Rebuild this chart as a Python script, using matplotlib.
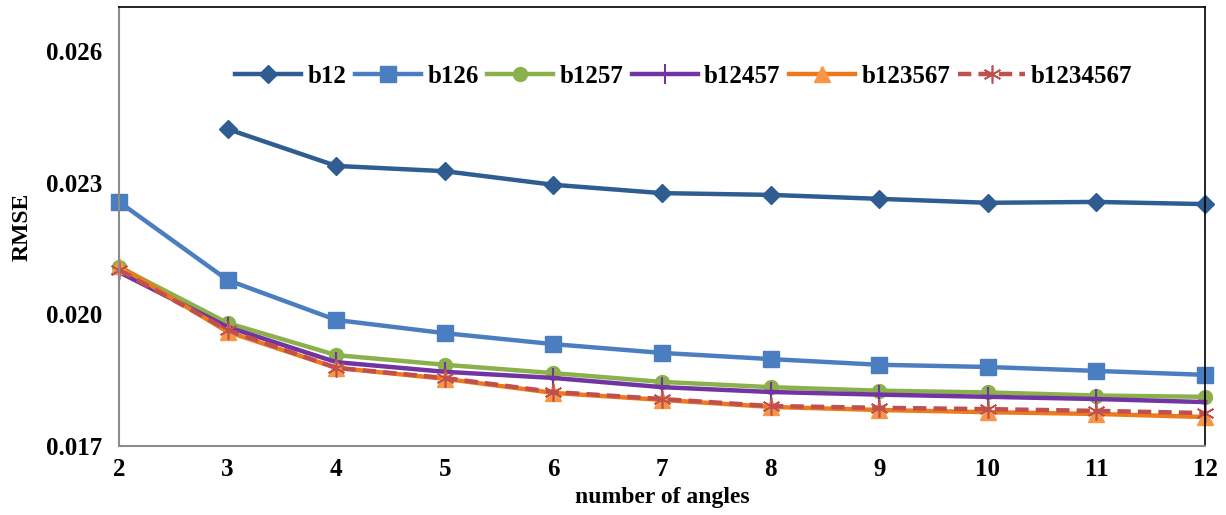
import matplotlib.pyplot as plt

# RMSE vs number of viewing angles for each band combination
angles = [2, 3, 4, 5, 6, 7, 8, 9, 10, 11, 12]

b12      = [None, 0.02422, 0.02338, 0.02326, 0.02295, 0.02276, 0.02272, 0.02263, 0.02254, 0.02256, 0.02251]
b126     = [0.02256, 0.02078, 0.01987, 0.01957, 0.01932, 0.01912, 0.01898, 0.01885, 0.01880, 0.01871, 0.01862]
b1257    = [0.02108, 0.01980, 0.01907, 0.01885, 0.01866, 0.01846, 0.01834, 0.01826, 0.01822, 0.01815, 0.01812]
b12457   = [0.02096, 0.01971, 0.01891, 0.01869, 0.01855, 0.01834, 0.01823, 0.01817, 0.01812, 0.01807, 0.01800]
b123567  = [0.02110, 0.01960, 0.01878, 0.01853, 0.01821, 0.01805, 0.01789, 0.01782, 0.01777, 0.01773, 0.01766]
b1234567 = [0.02101, 0.01964, 0.01878, 0.01855, 0.01823, 0.01807, 0.01791, 0.01787, 0.01784, 0.01780, 0.01775]

yticks = [0.017, 0.020, 0.023, 0.026]

plt.rcParams["font.family"] = ["Liberation Serif", "DejaVu Serif"]
plt.rcParams["font.weight"] = "bold"
plt.rcParams["axes.labelweight"] = "bold"

fig = plt.figure(figsize=(12.26, 5.15), dpi=100)
ax = fig.add_axes([0.0971, 0.134, 0.8858, 0.8524])

def pts(vals):
    xs = [a for a, v in zip(angles, vals) if v is not None]
    ys = [v for v in vals if v is not None]
    return xs, ys

lw = 3.2
ax.plot(*pts(b12), color="#2F5C91", lw=lw, marker="D", ms=9, label="b12", clip_on=False)
ax.plot(*pts(b126), color="#4A7EC0", lw=lw, marker="s", ms=12, label="b126", clip_on=False)
ax.plot(*pts(b1257), color="#8BB14C", lw=lw, marker="o", ms=10, label="b1257", clip_on=False)
ax.plot(*pts(b12457), color="#7233A3", lw=lw, marker="|", ms=14, mew=1.5, label="b12457",
        clip_on=False)
ax.plot(*pts(b123567), color="#EC7A1C", lw=lw, marker="^", ms=11,
        mfc="#F79646", mec="#F79646", label="b123567", clip_on=False)
ax.plot(*pts(b1234567), color="#C0504D", lw=lw, ls=(0, (3, 1.6)), marker=(6, 2, 0),
        ms=13, mew=1.2, label="b1234567", clip_on=False)

ax.set_xlim(2, 12)
ax.set_ylim(0.017, 0.027)
ax.set_xticks(angles)
ax.set_yticks(yticks)
ax.set_yticklabels([f"{t:.3f}" for t in yticks])
ax.tick_params(axis="both", length=0, labelsize=18)
ax.tick_params(axis="y", pad=12)
ax.tick_params(axis="x", pad=9)

for side in ("left", "bottom"):
    ax.spines[side].set_color("#8C8C8C")
    ax.spines[side].set_linewidth(1.5)
for side in ("top", "right"):
    ax.spines[side].set_color("black")
    ax.spines[side].set_linewidth(1.2)

ax.set_xlabel("number of angles", fontsize=17, labelpad=4)
ax.set_ylabel("RMSE", fontsize=17, labelpad=10)

ax.legend(loc="center", bbox_to_anchor=(0.520, 0.842), ncol=6, frameon=False,
          fontsize=18, handlelength=2.65, handletextpad=0.25, columnspacing=0.33,
          borderaxespad=0, borderpad=0)

fig.savefig("out.png", dpi=100)
